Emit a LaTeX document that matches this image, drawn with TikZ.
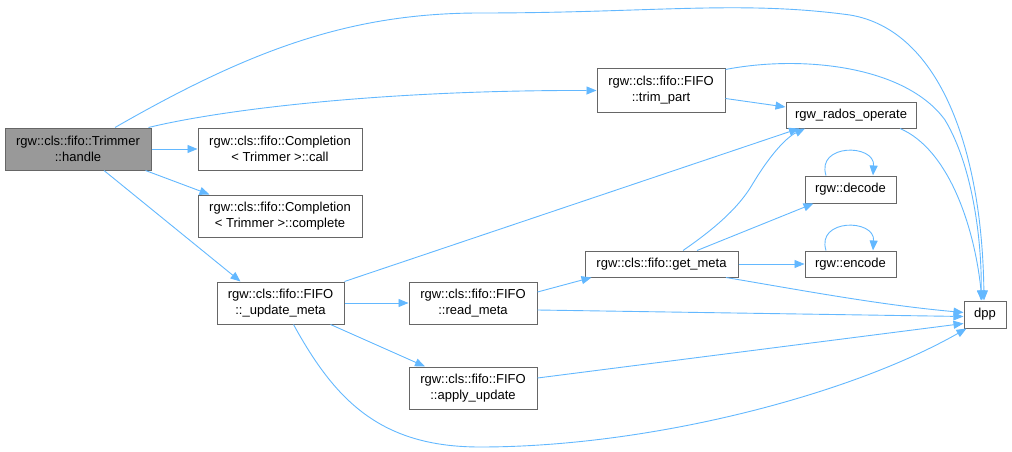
\documentclass[tikz,border=0pt]{standalone}
\usepackage{fontspec}
\setmainfont{Liberation Sans}
\usetikzlibrary{arrows.meta}
\definecolor{edgec}{HTML}{63B8FF}
\definecolor{bord}{HTML}{666666}
\definecolor{hfill}{HTML}{999999}
\begin{document}
\begin{tikzpicture}[x=1pt,y=-1pt,
 box/.style={draw=bord, line width=1pt, fill=white, inner sep=0pt, align=center,
   font=\fontsize{13}{16}\selectfont},
 edge/.style={draw=edgec, line width=0.9pt, -{Triangle[length=10pt,width=8pt]}},
]
\useasboundingbox (0,0) rectangle (1012,452);

% nodes
\node[box, fill=hfill, minimum width=146pt, minimum height=42pt] (handle) at (78,149) {rgw::cls::fifo::Trimmer\\::handle};
\node[box, minimum width=164pt, minimum height=42pt] (call) at (280,149) {rgw::cls::fifo::Completion\\< Trimmer >::call};
\node[box, minimum width=164pt, minimum height=42pt] (complete) at (280,216) {rgw::cls::fifo::Completion\\< Trimmer >::complete};
\node[box, minimum width=127pt, minimum height=42pt] (upd) at (280.5,303) {rgw::cls::fifo::FIFO\\::\_update\_meta};
\node[box, minimum width=128pt, minimum height=42pt] (read) at (473,303) {rgw::cls::fifo::FIFO\\::read\_meta};
\node[box, minimum width=128pt, minimum height=42pt] (apply) at (473,388) {rgw::cls::fifo::FIFO\\::apply\_update};
\node[box, minimum width=128pt, minimum height=43pt] (trim) at (661,90.5) {rgw::cls::fifo::FIFO\\::trim\_part};
\node[box, minimum width=130pt, minimum height=26pt] (rados) at (851,115) {rgw\_rados\_operate};
\node[box, minimum width=91pt, minimum height=27pt] (decode) at (850.5,189.5) {rgw::decode};
\node[box, minimum width=91pt, minimum height=26pt] (encode) at (850.5,264) {rgw::encode};
\node[box, minimum width=153pt, minimum height=26pt] (getm) at (661.5,264) {rgw::cls::fifo::get\_meta};
\node[box, minimum width=42pt, minimum height=27pt] (dpp) at (985,314.5) {dpp};

% edges from handle
\draw[edge] ([xshift=37pt]handle.north) .. controls (250,50) and (350,13) .. (480,13)
  .. controls (650,13) and (740,0) .. (850,15) .. controls (940,30) and (982,150) .. ([xshift=-1pt]dpp.north);
\draw[edge] ([xshift=-3pt]handle.north east) .. controls (220,110) and (380,90) .. (trim.west);
\draw[edge] (handle.east) -- (call.west);
\draw[edge] ([xshift=-6pt]handle.south east) -- ([xshift=12pt]complete.north west);
\draw[edge] ([xshift=26pt]handle.south) -- ([xshift=-40pt]upd.north);

% edges from _update_meta
\draw[edge] (upd.north east) -- ([xshift=-52pt]rados.south);
\draw[edge] (upd.east) -- (read.west);
\draw[edge] ([xshift=50pt]upd.south) -- ([xshift=-48pt]apply.north);
\draw[edge] ([xshift=13pt]upd.south) .. controls (335,400) and (380,447) .. (480,447)
  .. controls (650,447) and (850,395) .. ([xshift=3pt]dpp.south west);

% read_meta / apply_update
\draw[edge] ([yshift=11pt]read.east) -- ([xshift=-70pt]getm.south);
\draw[edge] ([yshift=-7pt]read.east) -- ([yshift=-2pt]dpp.west);
\draw[edge] ([yshift=10pt]apply.east) -- ([yshift=-9pt]dpp.west);

% get_meta
\draw[edge] ([xshift=21.5pt]getm.north) .. controls (720,225) and (740,205) .. (752,185)
  .. controls (768,158) and (785,138) .. ([xshift=-46pt]rados.south);
\draw[edge] ([xshift=35.5pt]getm.north) -- ([xshift=-37pt]decode.south);
\draw[edge] (getm.east) -- (encode.west);
\draw[edge] ([xshift=64.5pt]getm.south) .. controls (800,290) and (880,305) .. ([yshift=2pt]dpp.west);

% trim_part
\draw[edge] ([yshift=-8pt]trim.east) -- ([yshift=8pt]rados.west);
\draw[edge] ([yshift=-1pt]trim.north east) .. controls (800,55) and (905,65) .. (945,120)
  .. controls (975,170) and (982,250) .. ([xshift=-4pt]dpp.north);

% rgw_rados_operate
\draw[edge] ([xshift=49pt]rados.south) .. controls (950,150) and (975,230) .. ([xshift=-3pt]dpp.north);

% self loops
\draw[edge] ([xshift=-24.5pt]decode.north) .. controls +(-10,-32) and +(2,-32) .. ([xshift=22.5pt]decode.north);
\draw[edge] ([xshift=-24.5pt]encode.north) .. controls +(-10,-32) and +(2,-32) .. ([xshift=22.5pt]encode.north);
\end{tikzpicture}
\end{document}
